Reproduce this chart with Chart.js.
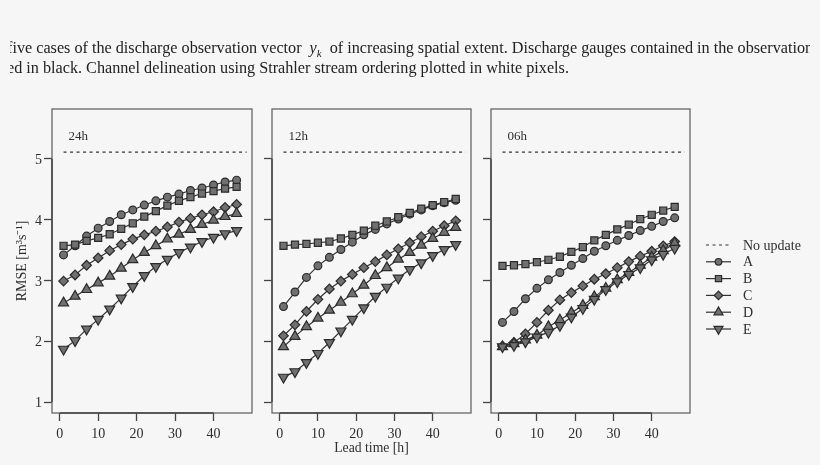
<!DOCTYPE html>
<html>
<head>
<meta charset="utf-8">
<title>RMSE by lead time</title>
<script src="https://cdn.jsdelivr.net/npm/chart.js@4"></script>
<style>
    html, body { margin: 0; padding: 0; background: #f6f6f6; }
    #page { position: relative; width: 820px; height: 465px; overflow: hidden; filter: blur(0.6px); }
    .caption { position: absolute; left: 10px; width: 800px; overflow: hidden; white-space: nowrap;
        font: 16.2px/18px "Liberation Serif", serif; color: #222; }
    .caption span { position: relative; }
    .caption i { margin: 0 4px; }
    .caption sub { font-size: 11px; line-height: 0; }
    canvas { position: absolute; top: 0; }
</style>
</head>
<body>
<div id="page">
    <div class="caption" style="top: 39px"><span style="left: -3px">five cases of the discharge observation vector <i>y<sub>k</sub></i> of increasing spatial extent. Discharge gauges contained in the observation</span></div>
    <div class="caption" style="top: 59px"><span style="left: -3px">ed in black. Channel delineation using Strahler stream ordering plotted in white pixels.</span></div>
    <canvas id="panel24" width="262" height="465" style="left: 0; width: 262px; height: 465px"></canvas>
    <canvas id="panel12" width="219" height="465" style="left: 262px; width: 219px; height: 465px"></canvas>
    <canvas id="panel06" width="339" height="465" style="left: 481px; width: 339px; height: 465px"></canvas>
</div>
<script>
const leadTimes = [1, 4, 7, 10, 13, 16, 19, 22, 25, 28, 31, 34, 37, 40, 43, 46];
const noUpdateX = [1, 48.6];
const noUpdateY = [5.11, 5.11];
const xTicks = [0, 10, 20, 30, 40];
const yTicks = [1, 2, 3, 4, 5];
const caseNames = ['A', 'B', 'C', 'D', 'E'];
const noUpdateName = 'No update';

const a24 = [3.42, 3.57, 3.73, 3.86, 3.97, 4.08, 4.16, 4.24, 4.31, 4.37, 4.42, 4.48, 4.52, 4.57, 4.62, 4.65];
const b24 = [3.57, 3.59, 3.65, 3.70, 3.76, 3.85, 3.94, 4.05, 4.14, 4.23, 4.31, 4.37, 4.43, 4.47, 4.51, 4.54];
const c24 = [2.99, 3.09, 3.25, 3.37, 3.49, 3.59, 3.68, 3.75, 3.81, 3.88, 3.96, 4.02, 4.08, 4.13, 4.20, 4.25];
const d24 = [2.63, 2.74, 2.85, 2.96, 3.07, 3.20, 3.34, 3.46, 3.57, 3.68, 3.76, 3.84, 3.92, 3.99, 4.05, 4.10];
const e24 = [1.87, 2.01, 2.20, 2.36, 2.53, 2.71, 2.90, 3.08, 3.23, 3.35, 3.46, 3.55, 3.64, 3.71, 3.77, 3.82];

const a12 = [2.57, 2.81, 3.05, 3.24, 3.38, 3.51, 3.63, 3.75, 3.84, 3.93, 4.01, 4.09, 4.16, 4.23, 4.28, 4.32];
const b12 = [3.57, 3.59, 3.60, 3.62, 3.64, 3.69, 3.75, 3.82, 3.90, 3.97, 4.04, 4.11, 4.18, 4.24, 4.29, 4.34];
const c12 = [2.09, 2.27, 2.49, 2.69, 2.86, 2.99, 3.10, 3.21, 3.31, 3.42, 3.52, 3.62, 3.72, 3.81, 3.90, 3.98];
const d12 = [1.91, 2.08, 2.24, 2.38, 2.51, 2.64, 2.78, 2.92, 3.08, 3.21, 3.35, 3.46, 3.58, 3.69, 3.79, 3.87];
const e12 = [1.41, 1.50, 1.65, 1.80, 1.98, 2.17, 2.36, 2.55, 2.74, 2.89, 3.04, 3.18, 3.29, 3.41, 3.51, 3.59];

const a06 = [2.31, 2.49, 2.70, 2.87, 3.01, 3.13, 3.25, 3.36, 3.48, 3.57, 3.66, 3.74, 3.82, 3.89, 3.97, 4.03];
const b06 = [3.24, 3.25, 3.27, 3.30, 3.34, 3.39, 3.47, 3.55, 3.66, 3.75, 3.84, 3.92, 4.01, 4.08, 4.15, 4.21];
const c06 = [1.92, 1.98, 2.12, 2.31, 2.51, 2.68, 2.80, 2.91, 3.02, 3.11, 3.21, 3.31, 3.40, 3.48, 3.57, 3.64];
const d06 = [1.91, 1.96, 2.02, 2.10, 2.24, 2.35, 2.47, 2.59, 2.73, 2.87, 3.01, 3.13, 3.25, 3.38, 3.49, 3.61];
const e06 = [1.91, 1.93, 1.99, 2.07, 2.15, 2.26, 2.40, 2.54, 2.69, 2.85, 2.98, 3.10, 3.21, 3.34, 3.43, 3.53];

const textColor = '#2e2e2e';
const boxColor = '#666';
const axisColor = '#444';
const lineColor = '#333';
const markFill = '#707070';
const markEdge = '#2a2a2a';
const serif = '"Liberation Serif", serif';

const markers = [
    { style: 'circle', rotation: 0, radius: 3.9 },
    { style: 'rect', rotation: 0, radius: 5 },
    { style: 'rectRot', rotation: 0, radius: 4.8 },
    { style: 'triangle', rotation: 0, radius: 5.8 },
    { style: 'triangle', rotation: 180, radius: 5.8 }
];

// box around the plot, darker axis run between the first and last tick, panel name
const framePlugin = {
    id: 'frame',
    afterDraw(chart, args, options) {
        const { ctx, chartArea: area, scales } = chart;
        ctx.save();
        ctx.strokeStyle = boxColor;
        ctx.lineWidth = 1.3;
        ctx.strokeRect(area.left, area.top, area.right - area.left, area.bottom - area.top);

        ctx.strokeStyle = axisColor;
        ctx.lineWidth = 1.5;
        ctx.beginPath();
        ctx.moveTo(scales.x.getPixelForValue(xTicks[0]), area.bottom);
        ctx.lineTo(scales.x.getPixelForValue(xTicks[xTicks.length - 1]), area.bottom);
        ctx.moveTo(area.left, scales.y.getPixelForValue(yTicks[0]));
        ctx.lineTo(area.left, scales.y.getPixelForValue(yTicks[yTicks.length - 1]));
        ctx.stroke();

        ctx.fillStyle = textColor;
        ctx.font = '13px ' + serif;
        ctx.textAlign = 'left';
        ctx.textBaseline = 'middle';
        ctx.fillText(options.name, scales.x.getPixelForValue(2.3), scales.y.getPixelForValue(5.37));
        ctx.restore();
    }
};

// legend outside the last panel: short line with the marker in its middle
const sideLegendPlugin = {
    id: 'sideLegend',
    afterDraw(chart) {
        const { ctx, chartArea: area } = chart;
        const left = area.right + 16;
        const rowTop = area.top + 136;
        const rowGap = 16.8;
        ctx.save();
        ctx.font = '14px ' + serif;
        ctx.textBaseline = 'middle';
        ctx.fillStyle = textColor;
        ctx.strokeStyle = lineColor;
        ctx.lineWidth = 1.2;
        ctx.setLineDash([3, 3.5]);
        ctx.beginPath();
        ctx.moveTo(left, rowTop);
        ctx.lineTo(left + 25, rowTop);
        ctx.stroke();
        ctx.setLineDash([]);
        ctx.fillText(noUpdateName, left + 37, rowTop + 1);
        caseNames.forEach((name, i) => {
            const y = rowTop + rowGap * (i + 1);
            ctx.strokeStyle = lineColor;
            ctx.lineWidth = 1.2;
            ctx.beginPath();
            ctx.moveTo(left, y);
            ctx.lineTo(left + 25, y);
            ctx.stroke();
            ctx.fillStyle = markFill;
            ctx.strokeStyle = markEdge;
            ctx.lineWidth = 1.2;
            Chart.helpers.drawPoint(ctx, {
                pointStyle: markers[i].style,
                rotation: markers[i].rotation,
                radius: markers[i].radius - 0.6,
                borderWidth: 1.2
            }, left + 12.5, y);
            ctx.fillStyle = textColor;
            ctx.fillText(name, left + 37, y + 1);
        });
        ctx.restore();
    }
};

function caseDataset(name, values, i) {
    return {
        label: name,
        data: values.map((v, k) => ({ x: leadTimes[k], y: v })),
        borderColor: lineColor,
        borderWidth: 1.2,
        pointStyle: markers[i].style,
        pointRotation: markers[i].rotation,
        pointRadius: markers[i].radius,
        pointBackgroundColor: markFill,
        pointBorderColor: markEdge,
        pointBorderWidth: 1.2,
        tension: 0,
        order: caseNames.length - i
    };
}

function createPanel(id, name, series, opts) {
    const datasets = series.map((values, i) => caseDataset(caseNames[i], values, i));
    datasets.push({
        label: noUpdateName,
        data: noUpdateX.map((x, k) => ({ x: x, y: noUpdateY[k] })),
        borderColor: lineColor,
        borderWidth: 1.2,
        borderDash: [3, 3.5],
        pointRadius: 0,
        order: 0
    });
    return new Chart(document.getElementById(id), {
        type: 'line',
        data: { datasets: datasets },
        options: {
            responsive: false,
            animation: false,
            layout: { padding: { top: 109, right: opts.right, bottom: 8, left: 0 } },
            plugins: { legend: { display: false }, tooltip: { enabled: false }, frame: { name: name } },
            scales: {
                x: {
                    type: 'linear',
                    min: -2,
                    max: 50,
                    afterBuildTicks: scale => { scale.ticks = xTicks.map(v => ({ value: v })); },
                    afterFit: scale => { scale.height = 44; },
                    grid: { drawOnChartArea: false, tickLength: 8, tickColor: axisColor, tickWidth: 1.3 },
                    border: { display: false },
                    ticks: { color: textColor, padding: 5, maxRotation: 0, autoSkip: false, font: { family: serif, size: 14 } },
                    title: {
                        display: opts.xTitle,
                        text: 'Lead time [h]',
                        color: textColor,
                        padding: 0,
                        font: { family: serif, size: 13.7 }
                    }
                },
                y: {
                    min: 0.82,
                    max: 5.82,
                    afterBuildTicks: scale => { scale.ticks = yTicks.map(v => ({ value: v })); },
                    afterFit: scale => { scale.width = opts.axisWidth; },
                    grid: { drawOnChartArea: false, tickLength: 8, tickColor: axisColor, tickWidth: 1.3 },
                    border: { display: false },
                    ticks: { display: opts.yLabels, color: textColor, padding: 2, labelOffset: 1.5, font: { family: serif, size: 14 } },
                    title: {
                        display: opts.yLabels,
                        text: 'RMSE [m³s⁻¹]',
                        color: textColor,
                        padding: { top: 14, bottom: 0 },
                        font: { family: serif, size: 14 }
                    }
                }
            }
        },
        plugins: opts.legend ? [framePlugin, sideLegendPlugin] : [framePlugin]
    });
}

createPanel('panel24', '24h', [a24, b24, c24, d24, e24], { right: 10, axisWidth: 52, yLabels: true, xTitle: false, legend: false });
createPanel('panel12', '12h', [a12, b12, c12, d12, e12], { right: 10, axisWidth: 10, yLabels: false, xTitle: true, legend: false });
createPanel('panel06', '06h', [a06, b06, c06, d06, e06], { right: 130, axisWidth: 10, yLabels: false, xTitle: false, legend: true });
</script>
</body>
</html>
